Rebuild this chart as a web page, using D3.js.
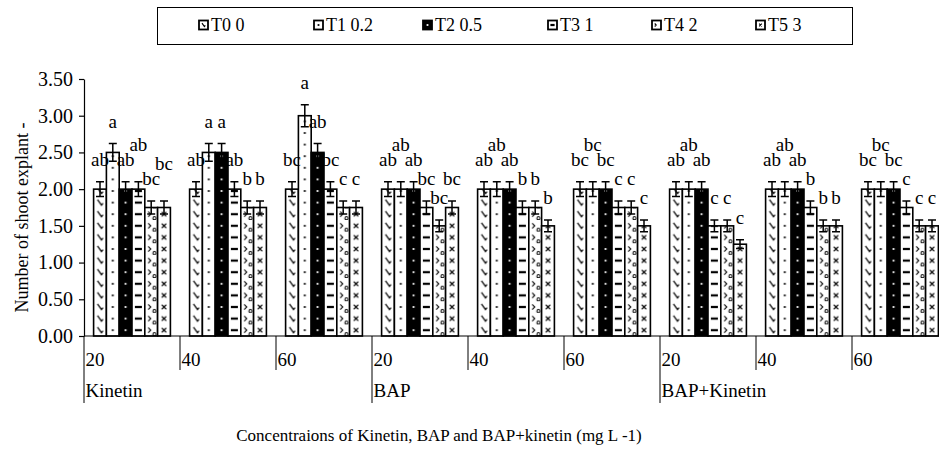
<!DOCTYPE html>
<html><head><meta charset="utf-8">
<script src="https://cdn.jsdelivr.net/npm/d3@7"></script>
<style>
body{margin:0;background:#fff}
svg text{font-family:"Liberation Serif","Times New Roman",serif;fill:#000}
</style>
</head><body>
<svg id="c" width="939" height="474"></svg>
<script>
// ---- data ----
const hormones = ["Kinetin", "BAP", "BAP+Kinetin"];
const concentrations = ["20", "40", "60"];
const series = ["T0 0", "T1 0.2", "T2 0.5", "T3 1", "T4 2", "T5 3"];
const yTicks = [0, 0.5, 1, 1.5, 2, 2.5, 3, 3.5];

const T0 = [2.0, 2.0, 2.0, 2.0, 2.0, 2.0, 2.0, 2.0, 2.0];
const T1 = [2.5, 2.5, 3.0, 2.0, 2.0, 2.0, 2.0, 2.0, 2.0];
const T2 = [2.0, 2.5, 2.5, 2.0, 2.0, 2.0, 2.0, 2.0, 2.0];
const T3 = [2.0, 2.0, 2.0, 1.75, 1.75, 1.75, 1.5, 1.75, 1.75];
const T4 = [1.75, 1.75, 1.75, 1.5, 1.75, 1.75, 1.5, 1.5, 1.5];
const T5 = [1.75, 1.75, 1.75, 1.75, 1.5, 1.5, 1.25, 1.5, 1.5];

const E0 = [0.1, 0.1, 0.1, 0.1, 0.1, 0.1, 0.1, 0.1, 0.1];
const E1 = [0.12, 0.12, 0.15, 0.1, 0.1, 0.1, 0.1, 0.1, 0.1];
const E2 = [0.1, 0.12, 0.12, 0.1, 0.1, 0.1, 0.1, 0.1, 0.1];
const E3 = [0.1, 0.1, 0.1, 0.09, 0.09, 0.09, 0.08, 0.09, 0.09];
const E4 = [0.09, 0.09, 0.09, 0.08, 0.09, 0.09, 0.08, 0.08, 0.08];
const E5 = [0.09, 0.09, 0.09, 0.09, 0.08, 0.08, 0.06, 0.08, 0.08];

const L0 = ["ab", "ab", "bc", "ab", "ab", "bc", "ab", "ab", "bc"];
const L1 = ["a", "a", "a", "ab", "ab", "bc", "ab", "ab", "bc"];
const L2 = ["ab", "a", "ab", "ab", "ab", "bc", "ab", "ab", "bc"];
const L3 = ["ab", "ab", "bc", "bc", "b", "c", "c", "b", "c"];
const L4 = ["bc", "b", "c", "bc", "b", "c", "c", "b", "c"];
const L5 = ["bc", "b", "c", "bc", "b", "c", "c", "b", "c"];

const yTitle = "Number of shoot  explant -";
const xTitle = "Concentraions of Kinetin, BAP and BAP+kinetin (mg L -1)";

// ---- build ----
const values = [T0, T1, T2, T3, T4, T5];
const errors = [E0, E1, E2, E3, E4, E5];
const letters = [L0, L1, L2, L3, L4, L5];
const groupKeys = hormones.flatMap(h => concentrations.map(c => h + "|" + c));

const svg = d3.select("#c");
const defs = svg.append("defs");
const pLeft = 84, pRight = 948, pTop = 79, pBottom = 336;

const x0 = d3.scaleBand().domain(groupKeys).range([pLeft, pRight]).padding(0);
const x1 = d3.scaleBand().domain(series).range([0, x0.bandwidth()]).paddingInner(0).paddingOuter(0.75);
const y = d3.scaleLinear().domain([0, 3.5]).range([pBottom, pTop]);
const bw = x1.bandwidth();
const tileH = 11.6;

function drawMark(g, i, cx, cy, small) {
  const k = small ? 0.6 : 1;
  if (i === 0) {
    g.append("path").attr("d", `M${cx - 2.5 * k},${cy - 3 * k} L${cx + 1.5 * k},${cy + 2.5 * k} L${cx + 3 * k},${cy + 0.5 * k}`)
      .attr("fill", "none").attr("stroke", "#000").attr("stroke-width", 1.2);
  } else if (i === 1) {
    g.append("rect").attr("x", cx - 0.9).attr("y", cy - 0.9).attr("width", 1.8).attr("height", 1.8).attr("fill", "#000");
  } else if (i === 2) {
    g.append("rect").attr("x", cx - 0.9).attr("y", cy - 0.9).attr("width", 1.8).attr("height", 1.8).attr("fill", "#fff");
  } else if (i === 3) {
    g.append("rect").attr("x", cx - 3.5 * k).attr("y", cy - 1.1).attr("width", 7 * k).attr("height", 2.2).attr("fill", "#000");
  } else if (i === 4) {
    g.append("path").attr("d", `M${cx - 3 * k},${cy - 2.5 * k} L${cx - 0.5 * k},${cy} L${cx - 3 * k},${cy + 2.5 * k}`)
      .attr("fill", "none").attr("stroke", "#000").attr("stroke-width", 1.1);
    if (!small) g.append("circle").attr("cx", cx + 3.2).attr("cy", cy + 4).attr("r", 1.5)
      .attr("fill", "none").attr("stroke", "#000").attr("stroke-width", 1);
  } else {
    g.append("path").attr("d", `M${cx - 2.2 * k},${cy - 2.2 * k} L${cx + 2.2 * k},${cy + 2.2 * k} M${cx + 2.2 * k},${cy - 2.2 * k} L${cx - 2.2 * k},${cy + 2.2 * k}`)
      .attr("fill", "none").attr("stroke", "#000").attr("stroke-width", 1.1);
  }
}

series.forEach((s, i) => {
  const p = defs.append("pattern").attr("id", "pat" + i)
    .attr("patternUnits", "userSpaceOnUse")
    .attr("x", x0(groupKeys[0]) + x1(s)).attr("y", pBottom)
    .attr("width", x0.step()).attr("height", tileH);
  p.append("rect").attr("width", x0.step()).attr("height", tileH).attr("fill", i === 2 ? "#000" : "#fff");
  drawMark(p, i, bw / 2, tileH / 2, false);
});

// ---- legend ----
const legend = svg.append("g");
legend.append("rect").attr("x", 157.5).attr("y", 7.5).attr("width", 695).attr("height", 37)
  .attr("fill", "#fff").attr("stroke", "#000").attr("stroke-width", 1);
const legendPos = [199, 314, 423, 548, 652, 756];
series.forEach((s, i) => {
  const gx = legendPos[i];
  const g = legend.append("g");
  g.append("rect").attr("x", gx).attr("y", 20.5).attr("width", 9).attr("height", 9)
    .attr("fill", i === 2 ? "#000" : "#fff").attr("stroke", "#000").attr("stroke-width", 1.8);
  drawMark(g, i, gx + 4.5, 25, true);
  g.append("text").attr("x", gx + 12).attr("y", 31).attr("font-size", 18).text(s);
});

// ---- y axis ----
const yAxis = svg.append("g").attr("transform", `translate(${pLeft},0)`)
  .call(d3.axisLeft(y).tickValues(yTicks).tickFormat(d3.format(".2f")).tickSize(5).tickSizeOuter(0).tickPadding(6));
yAxis.select(".domain").attr("stroke", "#000").attr("stroke-width", 1.2);
yAxis.selectAll(".tick line").attr("stroke", "#000").attr("stroke-width", 1.2);
yAxis.selectAll(".tick text").attr("font-size", 20).attr("font-family", "Liberation Serif").attr("fill", "#000");

// ---- bars ----
const plot = svg.append("g");
const groupsSel = plot.selectAll("g.grp").data(groupKeys).join("g").attr("class", "grp");
groupsSel.each(function (gk, gi) {
  const g = d3.select(this);
  series.forEach((s, si) => {
    const v = values[si][gi];
    g.append("rect")
      .attr("x", x0(gk) + x1(s)).attr("y", y(v))
      .attr("width", bw).attr("height", y(0) - y(v))
      .attr("fill", `url(#pat${si})`).attr("stroke", "#000").attr("stroke-width", 1.6);
  });
  series.forEach((s, si) => {
    const v = values[si][gi], e = errors[si][gi];
    const cx = x0(gk) + x1(s) + bw / 2;
    g.append("path")
      .attr("d", `M${cx},${y(v + e)}V${y(v - e)}M${cx - 4},${y(v + e)}H${cx + 4}M${cx - 4},${y(v - e)}H${cx + 4}`)
      .attr("stroke", "#000").attr("stroke-width", 1.5).attr("fill", "none");
  });
});

// ---- x axis ----
const xAxis = svg.append("g");
xAxis.append("line").attr("x1", pLeft).attr("x2", pRight).attr("y1", pBottom).attr("y2", pBottom)
  .attr("stroke", "#000").attr("stroke-width", 1.2);
groupKeys.forEach((gk, gi) => {
  const [h, c] = gk.split("|");
  const first = concentrations.indexOf(c) === 0;
  xAxis.append("line").attr("x1", x0(gk)).attr("x2", x0(gk)).attr("y1", pBottom).attr("y2", first ? 403 : 370)
    .attr("stroke", "#000").attr("stroke-width", 1);
  xAxis.append("text").attr("x", x0(gk) + 1.5).attr("y", 366).attr("font-size", 19).text(c);
  if (first) xAxis.append("text").attr("x", x0(gk) + 1.5).attr("y", 397).attr("font-size", 19).text(h);
});

// ---- letters ----
const lab = svg.append("g");
groupKeys.forEach((gk, gi) => {
  const placed = [];
  series.forEach((s, si) => {
    const v = values[si][gi], e = errors[si][gi];
    const cx = x0(gk) + x1(s) + bw / 2;
    const t = lab.append("text").attr("x", cx).attr("text-anchor", "middle").attr("font-size", 19).text(letters[si][gi]);
    const w = t.node().getComputedTextLength();
    let b = y(v + e) - 16;
    let moved = true, guard = 0;
    while (moved && guard++ < 10) {
      moved = false;
      for (const p of placed) {
        const hOver = (w + p.w) / 2 - Math.abs(cx - p.cx);
        if (hOver > 0.5 && Math.abs(b - p.b) < 14) { b = p.b - 15; moved = true; }
      }
    }
    t.attr("y", b);
    placed.push({ cx, w, b });
  });
});

// ---- titles ----
svg.append("text").attr("transform", `translate(28,${(pTop + pBottom) / 2 + 10}) rotate(-90)`)
  .attr("text-anchor", "middle").attr("font-size", 18).text(yTitle);
svg.append("text").attr("x", 439).attr("y", 441).attr("text-anchor", "middle").attr("font-size", 17).text(xTitle);
</script>
</body></html>
